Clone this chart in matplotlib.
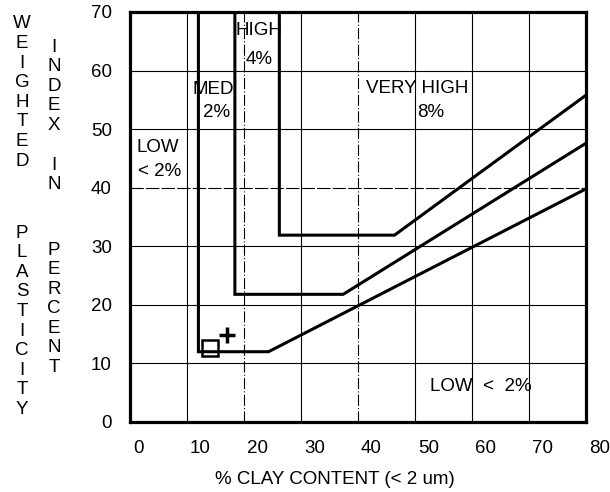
import matplotlib.pyplot as plt
from matplotlib.transforms import ScaledTranslation

plt.rcParams['font.family'] = ['Liberation Sans', 'DejaVu Sans']

# boundary lines (clay %, weighted PI %)
low_med_x = [12, 12, 24.3, 80]
low_med_y = [70, 12, 12, 39.8]
med_high_x = [18.4, 18.4, 37.4, 80]
med_high_y = [70, 21.8, 21.8, 47.6]
high_vh_x = [26.2, 26.2, 46.4, 80]
high_vh_y = [70, 31.9, 31.9, 55.8]

# sample points
square_x, square_y = [14.0], [12.6]
plus_x, plus_y = [17.1], [14.8]

xticks = [0, 10, 20, 30, 40, 50, 60, 70, 80]
yticks = [0, 10, 20, 30, 40, 50, 60, 70]

fig = plt.figure(figsize=(6.1, 4.92), dpi=100)
ax = fig.add_axes([130/610, 70/492, 456/610, 410/492])
ax.set_xlim(0, 80)
ax.set_ylim(0, 70)

# grid
for gx in xticks[1:-1]:
    ls = (0, (10, 2, 1, 2)) if gx in (20, 40) else '-'
    ax.axvline(gx, color='black', lw=0.8, ls=ls, zorder=1)
for gy in yticks[1:-1]:
    ls = (0, (12, 2)) if gy == 40 else '-'
    ax.axhline(gy, color='black', lw=0.8, ls=ls, zorder=1)

for xs, ys in [(low_med_x, low_med_y), (med_high_x, med_high_y), (high_vh_x, high_vh_y)]:
    ax.plot(xs, ys, color='black', lw=2.2, solid_joinstyle='miter', zorder=3)

ax.plot(square_x, square_y, 's', ms=12, mfc='none', mec='black', mew=1.8, zorder=4)
ax.plot(plus_x, plus_y, '+', ms=11, mec='black', mew=2.5, zorder=4)

fs = 13.5
ax.text(22.6, 66.8, 'HIGH', ha='center', va='center', fontsize=fs)
ax.text(22.6, 61.9, '4%', ha='center', va='center', fontsize=fs)
ax.text(14.6, 56.7, 'MED', ha='center', va='center', fontsize=fs)
ax.text(15.2, 52.8, '2%', ha='center', va='center', fontsize=fs)
ax.text(1.2, 46.8, 'LOW', ha='left', va='center', fontsize=fs)
ax.text(1.4, 42.7, '< 2%', ha='left', va='center', fontsize=fs)
ax.text(41.4, 57.0, 'VERY HIGH', ha='left', va='center', fontsize=fs)
ax.text(50.4, 52.9, '8%', ha='left', va='center', fontsize=fs)
ax.text(52.6, 6.0, 'LOW  <  2%', ha='left', va='center', fontsize=fs)

for s in ax.spines.values():
    s.set_linewidth(2.3)

ax.set_xticks(xticks)
ax.set_yticks(yticks)
ax.tick_params(length=0, labelsize=fs, pad=13)
off = ScaledTranslation(3/100, 0, fig.dpi_scale_trans)
for lab in ax.get_xticklabels():
    lab.set_horizontalalignment('left')
    lab.set_transform(lab.get_transform() + off)

fig.text(335/610, 1 - 479/492, '% CLAY CONTENT (< 2 um)', ha='center', va='center', fontsize=fs)

# stacked y-axis label letters
words = [('WEIGHTED', 22, 24), ('PLASTICITY', 22, 233), ('INDEX', 54, 47), ('IN', 54, 165), ('PERCENT', 54, 250)]
pitch = 19.6
for word, px, py in words:
    for i, ch in enumerate(word):
        fig.text(px/610, 1 - (py + i*pitch)/492, ch, ha='center', va='center', fontsize=fs)

fig.savefig('out.png', dpi=100)
